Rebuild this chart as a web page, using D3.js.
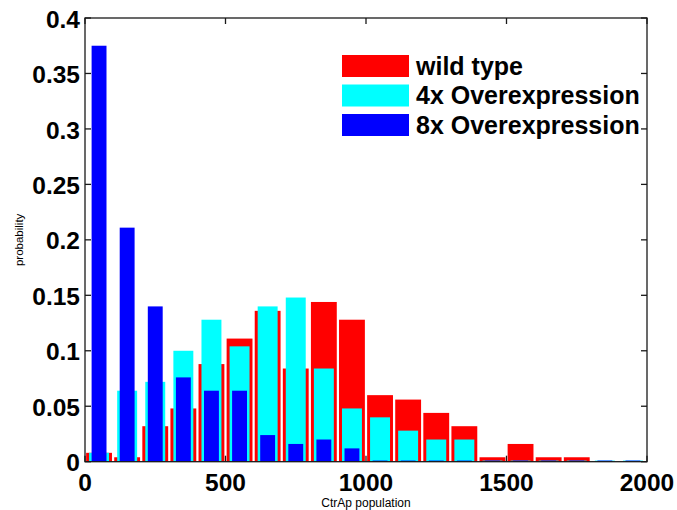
<!DOCTYPE html>
<html>
<head>
<meta charset="utf-8">
<script src="https://cdn.jsdelivr.net/npm/d3@7"></script>
<style>
    body { margin: 0; background: #fff; }
    svg { font-family: "Liberation Sans", Arial, Helvetica, sans-serif; }
</style>
</head>
<body>
<svg id="basic_svg" width="677" height="510"></svg>
<script>
// Bin centres (CtrAp population)
let binCenters = [50, 150, 250, 350, 450, 550, 650, 750, 850, 950,
    1050, 1150, 1250, 1350, 1450, 1550, 1650, 1750, 1850, 1950];

// Probabilities per bin
let wildType = [0.008, 0.004, 0.032, 0.048, 0.088, 0.111, 0.136, 0.084, 0.144, 0.128,
    0.060, 0.056, 0.044, 0.032, 0.004, 0.016, 0.004, 0.004, 0, 0];
let over4x = [0.008, 0.064, 0.072, 0.100, 0.128, 0.104, 0.140, 0.148, 0.084, 0.048,
    0.040, 0.028, 0.020, 0.020, 0.001, 0.001, 0.001, 0.001, 0.001, 0.001];
let over8x = [0.375, 0.211, 0.140, 0.076, 0.064, 0.064, 0.024, 0.016, 0.020, 0.012,
    0.001, 0.001, 0.001, 0.001, 0.001, 0.001, 0.001, 0.001, 0.001, 0.001];

let seriesNames = ["wild type", "4x Overexpression", "8x Overexpression"];
let seriesColors = ["#ff0000", "#00ffff", "#0000ff"];
// bar width as a fraction of the bin width (back to front)
let barWidths = [0.92, 0.71, 0.53];

let xTicks = [0, 500, 1000, 1500, 2000];
let yTicks = [0, 0.05, 0.1, 0.15, 0.2, 0.25, 0.3, 0.35, 0.4];

let svg = d3.select("#basic_svg");

let plotLeft = 85, plotRight = 647, plotTop = 18, plotBottom = 461.7;

let x = d3.scaleLinear().domain([0, 2000]).range([plotLeft, plotRight]);
let y = d3.scaleLinear().domain([0, 0.4]).range([plotBottom, plotTop]);
let binW = x(100) - x(0);

// Draw the three bar series, red at the back
let allSeries = [wildType, over4x, over8x];
allSeries.forEach(function (values, i) {
    svg.append("g")
        .selectAll("rect")
        .data(values)
        .enter()
        .append("rect")
        .attr("x", function (d, j) { return x(binCenters[j]) - binW * barWidths[i] / 2; })
        .attr("width", binW * barWidths[i])
        .attr("y", function (d) { return y(d); })
        .attr("height", function (d) { return y(0) - y(d); })
        .attr("fill", seriesColors[i]);
});

// Box and inward ticks (MATLAB style)
let axisColor = "#1a1a1a";
let tickLen = 6;
let frame = svg.append("g").attr("stroke", axisColor).attr("stroke-width", 1.3);

frame.append("rect")
    .attr("x", plotLeft).attr("y", plotTop)
    .attr("width", plotRight - plotLeft).attr("height", plotBottom - plotTop)
    .attr("fill", "none");

xTicks.forEach(function (t) {
    frame.append("line").attr("x1", x(t)).attr("x2", x(t)).attr("y1", plotBottom).attr("y2", plotBottom - tickLen);
    frame.append("line").attr("x1", x(t)).attr("x2", x(t)).attr("y1", plotTop).attr("y2", plotTop + tickLen);
});
yTicks.forEach(function (t) {
    frame.append("line").attr("x1", plotLeft).attr("x2", plotLeft + tickLen).attr("y1", y(t)).attr("y2", y(t));
    frame.append("line").attr("x1", plotRight).attr("x2", plotRight - tickLen).attr("y1", y(t)).attr("y2", y(t));
});

// Tick labels
svg.append("g")
    .selectAll("text")
    .data(yTicks)
    .enter()
    .append("text")
    .attr("x", plotLeft - 5)
    .attr("y", function (d) { return y(d) + 1; })
    .attr("dy", "0.35em")
    .attr("text-anchor", "end")
    .attr("font-size", 24.5)
    .attr("font-weight", "bold")
    .text(function (d) { return d; });

svg.append("g")
    .selectAll("text")
    .data(xTicks)
    .enter()
    .append("text")
    .attr("x", function (d) { return x(d); })
    .attr("y", 491)
    .attr("text-anchor", "middle")
    .attr("font-size", 24.5)
    .attr("font-weight", "bold")
    .text(function (d) { return d; });

// Axis titles
svg.append("text")
    .attr("x", (plotLeft + plotRight) / 2)
    .attr("y", 507)
    .attr("text-anchor", "middle")
    .attr("font-size", 12)
    .text("CtrAp population");

svg.append("text")
    .attr("transform", "translate(23," + ((plotTop + plotBottom) / 2) + ") rotate(-90)")
    .attr("text-anchor", "middle")
    .attr("font-size", 11.5)
    .text("probability");

// Legend
let legend = svg.append("g")
    .selectAll("g")
    .data(seriesNames)
    .enter()
    .append("g")
    .attr("transform", function (d, i) { return "translate(342," + (55 + i * 29.5) + ")"; });

legend.append("rect")
    .attr("width", 67)
    .attr("height", 22)
    .attr("fill", function (d, i) { return seriesColors[i]; });

legend.append("text")
    .attr("x", 74)
    .attr("y", 19.5)
    .attr("font-size", 25)
    .attr("font-weight", "bold")
    .text(function (d) { return d; });
</script>
</body>
</html>
